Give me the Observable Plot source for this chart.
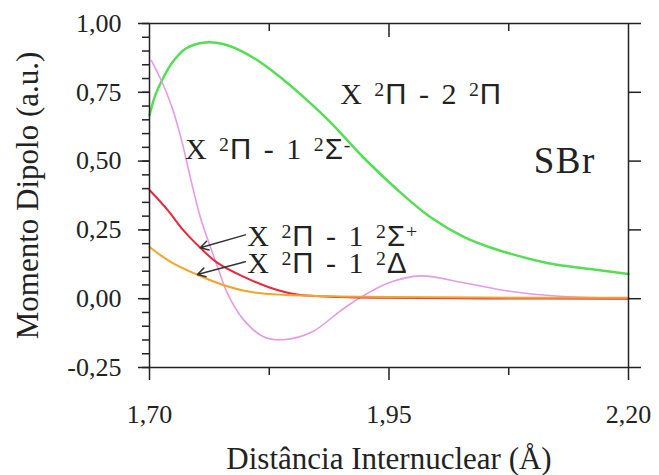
<!DOCTYPE html>
<html>
<head>
<meta charset="utf-8">
<script src="https://cdn.jsdelivr.net/npm/d3@7"></script>
<script src="https://cdn.jsdelivr.net/npm/@observablehq/plot@0.6"></script>
<style>
  html, body { margin: 0; padding: 0; background: white; }
  svg text { font-family: "Liberation Serif", "Times New Roman", serif; }
</style>
</head>
<body>
<div id="chart"></div>
<script>
// ---- data ----
const greenX = [1.70, 1.706, 1.714, 1.724, 1.738, 1.758, 1.782, 1.811, 1.84, 1.865, 1.889, 1.923, 1.959, 1.993, 2.028, 2.063, 2.115, 2.16, 2.20];
const greenY = [0.667, 0.739, 0.80, 0.859, 0.909, 0.931, 0.92, 0.87, 0.795, 0.72, 0.641, 0.514, 0.395, 0.297, 0.225, 0.178, 0.13, 0.108, 0.09];

const pinkX = [1.702, 1.714, 1.724, 1.734, 1.741, 1.753, 1.771, 1.781, 1.798, 1.819, 1.84, 1.87, 1.899, 1.918, 1.95, 1.983, 2.028, 2.08, 2.132, 2.20];
const pinkY = [0.865, 0.78, 0.69, 0.569, 0.465, 0.297, 0.116, 0.022, -0.076, -0.138, -0.149, -0.12, -0.045, 0.0, 0.058, 0.083, 0.058, 0.025, 0.008, 0.002];

const redX = [1.70, 1.719, 1.735, 1.753, 1.771, 1.798, 1.826, 1.854, 1.90, 1.95, 2.05, 2.20];
const redY = [0.395, 0.322, 0.25, 0.185, 0.13, 0.08, 0.04, 0.015, 0.006, 0.003, 0.001, 0.0];

const orangeX = [1.70, 1.722, 1.75, 1.777, 1.805, 1.84, 1.90, 1.95, 2.05, 2.20];
const orangeY = [0.188, 0.134, 0.087, 0.05, 0.025, 0.014, 0.008, 0.006, 0.004, 0.003];

const seriesNames = ["X ²Π - 2 ²Π", "X ²Π - 1 ²Σ⁻", "X ²Π - 1 ²Σ⁺", "X ²Π - 1 ²Δ"];
const seriesColors = ["#55dd55", "#e39be6", "#e8283c", "#f2a52a"];
const seriesWidths = [2.5, 1.6, 2, 2];

const xMajorTicks = [1.70, 1.95, 2.20];
const xMajorLabels = ["1,70", "1,95", "2,20"];
const xMinorTicks = [1.825, 2.075];
const yMajorTicks = [-0.25, 0.00, 0.25, 0.50, 0.75, 1.00];
const yMajorLabels = ["-0,25", "0,00", "0,25", "0,50", "0,75", "1,00"];
const yMinorTicks = d3.range(-25, 101, 5).map(v => v / 100);

const xLabel = "Distância Internuclear (Å)";
const yLabel = "Momento Dipolo (a.u.)";

// annotations (text, x, y)
const annText = ["X ²Π - 2 ²Π", "X ²Π - 1 ²Σ⁻", "X ²Π - 1 ²Σ⁺", "X ²Π - 1 ²Δ", "SBr"];
const annX = [1.899, 1.737, 1.802, 1.802, 2.101];
const annY = [0.743, 0.543, 0.225, 0.130, 0.50];
const annSize = [30, 30, 30, 30, 37];

// arrows from labels to curves
const arrowX1 = [1.800, 1.800];
const arrowY1 = [0.232, 0.134];
const arrowX2 = [1.753, 1.750];
const arrowY2 = [0.185, 0.088];

// ---- build tables ----
const xs = [greenX, pinkX, redX, orangeX];
const ys = [greenY, pinkY, redY, orangeY];
const lines = seriesNames.map((name, i) =>
  xs[i].map((x, j) => ({series: name, x, y: ys[i][j]})));
const ann = annText.map((t, i) => ({t, x: annX[i], y: annY[i], s: annSize[i]}));
const arrows = arrowX1.map((x1, i) => ({x1, y1: arrowY1[i], x2: arrowX2[i], y2: arrowY2[i]}));

const fmtX = d => xMajorLabels[xMajorTicks.findIndex(v => Math.abs(v - d) < 1e-9)] ?? "";
const fmtY = d => yMajorLabels[yMajorTicks.findIndex(v => Math.abs(v - d) < 1e-9)] ?? "";

const ink = "#222";
const serif = "Liberation Serif";

const chart = Plot.plot({
  width: 659,
  height: 475,
  marginLeft: 149,
  marginRight: 31,
  marginTop: 23,
  marginBottom: 108,
  x: {domain: [1.70, 2.20]},
  y: {domain: [-0.25, 1.0]},
  style: {fontFamily: serif, fontSize: "26px", color: ink, background: "white"},
  marks: [
    ...lines.map((data, i) => Plot.line(data, {
      x: "x", y: "y", stroke: seriesColors[i], strokeWidth: seriesWidths[i], curve: "catmull-rom"
    })),
    Plot.frame({stroke: ink, strokeWidth: 1.5}),
    Plot.axisY(yMinorTicks, {tickSize: 7, tickFormat: () => "", label: null, stroke: ink, strokeWidth: 1.5}),
    Plot.axisY(yMajorTicks, {tickSize: 11, tickPadding: 17, tickFormat: fmtY, label: null, stroke: ink, strokeWidth: 1.5, fill: ink, fontFamily: serif, fontSize: 26}),
    Plot.axisY(yMajorTicks, {anchor: "right", tickSize: 12, tickFormat: () => "", label: null, stroke: ink, strokeWidth: 1.5}),
    Plot.axisX(xMajorTicks, {anchor: "bottom", tickSize: 13, tickPadding: 24, tickFormat: fmtX, label: null, stroke: ink, strokeWidth: 1.5, fill: ink, fontFamily: serif, fontSize: 26}),
    Plot.axisX(xMinorTicks, {anchor: "bottom", tickSize: 8, tickFormat: () => "", label: null, stroke: ink, strokeWidth: 1.5}),
    Plot.axisX([xMajorTicks[1]], {anchor: "top", tickSize: -13, tickFormat: () => "", label: null, stroke: ink, strokeWidth: 1.5}),
    Plot.axisX(xMinorTicks, {anchor: "top", tickSize: -7, tickFormat: () => "", label: null, stroke: ink, strokeWidth: 1.5}),
    Plot.text([yLabel], {frameAnchor: "left", dx: -121, rotate: -90, text: d => d, fontSize: 31, fontFamily: serif, fill: ink, textAnchor: "middle", lineAnchor: "middle"}),
    Plot.text([xLabel], {frameAnchor: "bottom", dy: 92, text: d => d, fontSize: 31, fontFamily: serif, fill: ink, textAnchor: "middle", lineAnchor: "middle"}),
    Plot.text(ann, {x: "x", y: "y", text: "t", fontSize: d => d.s, fontFamily: serif, textAnchor: "start", lineAnchor: "middle", fill: ink}),
    Plot.arrow(arrows, {x1: "x1", y1: "y1", x2: "x2", y2: "y2", stroke: "#333", strokeWidth: 1.5, headLength: 9})
  ]
});

// typeset superscripts and Greek letters in annotation labels as tspans (text stays real text)
const supMap = {"²": "2", "⁺": "+", "⁻": "-"};
d3.select(chart).selectAll("text").filter(function () {
  return annText.includes(this.textContent);
}).each(function () {
  const s = this.textContent;
  const el = d3.select(this);
  const parts = [];
  for (const ch of s) {
    const type = supMap[ch] ? "sup" : (/[ΠΣΔ]/.test(ch) ? "greek" : "plain");
    const txt = supMap[ch] ?? ch;
    if (parts.length && parts[parts.length - 1].type === type) parts[parts.length - 1].txt += txt;
    else parts.push({type, txt});
  }
  if (!parts.some(p => p.type !== "plain")) {
    el.attr("letter-spacing", 1.5);
    return;
  }
  el.attr("word-spacing", 3).attr("letter-spacing", 1);
  this.textContent = "";
  for (const p of parts) {
    const ts = el.append("tspan").text(p.txt);
    if (p.type === "sup") ts.attr("font-size", "0.66em").attr("baseline-shift", "42%");
    if (p.type === "greek") ts.attr("font-family", "Liberation Sans").attr("font-size", "0.98em");
  }
});

document.getElementById("chart").appendChild(chart);
</script>
</body>
</html>
